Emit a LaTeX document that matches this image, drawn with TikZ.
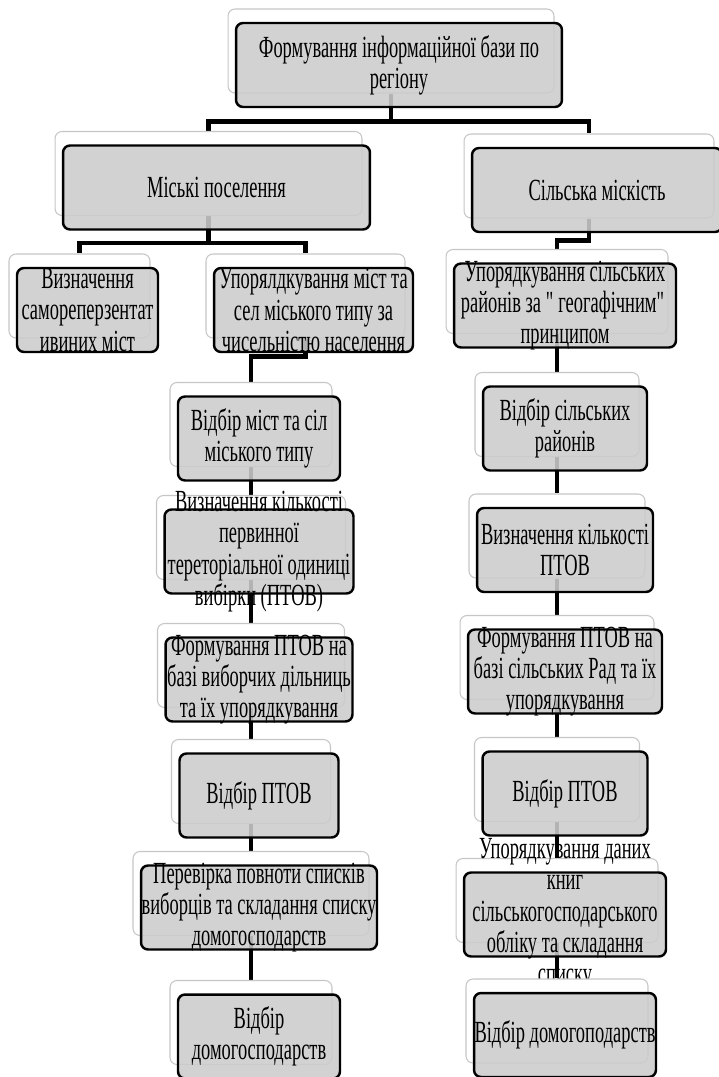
\documentclass[tikz,border=0pt]{standalone}
\usepackage{fontspec}
\setmainfont{Liberation Serif}[FakeStretch=0.6]
\usepackage{tikz}
\usetikzlibrary{shapes,arrows,positioning,calc,backgrounds}
\definecolor{boxgray}{RGB}{204,204,204}
\newcommand{\tierbox}[4]{%
  \node [backbox, minimum width=#3] (#1b) at ($(#2)+(-8,-14)$) {};
  \node [frontbox, minimum width=#3, label={[boxtext]center:{#4}}] (#1) at (#2) {};
}

\begin{document}
\begin{tikzpicture}[x=0.02cm, y=-0.02cm]
        % Styles
        \tikzstyle{backbox} = [rectangle, draw=gray!45, fill=white, rounded corners=0.14cm, minimum height=1.68cm, line width=0.6pt]
        \tikzstyle{frontbox} = [rectangle, draw=black, fill=boxgray, fill opacity=0.88, rounded corners=0.14cm, minimum height=1.68cm, line width=1.4pt]
        \tikzstyle{boxtext} = [align=center, font=\fontsize{17.5}{17.8}\selectfont, inner sep=0pt, fill opacity=1, text opacity=1]
        \tikzstyle{line} = [draw, line width=2.3pt]

        \useasboundingbox (0,0) rectangle (719,1077);

        % Nodes
        \tierbox{root}{399,65}{6.52cm}{Формування інформаційної бази по\\регіону}
        \tierbox{mis}{216.5,187.5}{6.14cm}{Міські поселення}
        \tierbox{sil}{597,190}{5cm}{Сільська міскість}
        \tierbox{viz}{87.5,310}{2.82cm}{Визначення\\самореперзентат\\ивиних міст}
        \tierbox{uporm}{313.5,310}{3.98cm}{Упорялдкування міст та\\сел міського типу за\\чисельністю населення}
        \tierbox{upors}{565,305.5}{4.44cm}{Упорядкування сільських\\районів за \textquotedbl{}геогафічним\textquotedbl\\принципом}
        \tierbox{vidm}{259,438.5}{3.24cm}{Відбір міст та сіл\\міського типу}
        \tierbox{vidr}{565,428.5}{3.28cm}{Відбір сільських\\районів}
        \tierbox{kilm}{259,551.5}{3.78cm}{Визначення кількості\\первинної\\тереторіальної одиниці\\вибірки (ПТОВ)}
        \tierbox{kilr}{565,550}{3.52cm}{Визначення кількості\\ПТОВ}
        \tierbox{formm}{259,679.5}{3.74cm}{Формування ПТОВ на\\базі виборчих дільниць\\та їх упорядкування}
        \tierbox{formr}{565,671.5}{3.88cm}{Формування ПТОВ на\\базі сільських Рад та їх\\упорядкування}
        \tierbox{ptovm}{259,795.5}{3.18cm}{Відбір ПТОВ}
        \tierbox{ptovr}{565,793.5}{3.3cm}{Відбір ПТОВ}
        \tierbox{perm}{259,907.5}{4.72cm}{Перевірка повноти списків\\виборців та складання списку\\домогосподарств}
        \tierbox{uporr}{565,914.5}{4.04cm}{Упорядкування даних\\книг\\сільськогосподарського\\обліку та складання\\списку}
        \tierbox{vidhm}{259,1036.5}{3.24cm}{Відбір\\домогосподарств}
        \tierbox{vidhr}{565,1035}{3.64cm}{Відбір домогоподарств}

        % Edges
        \begin{pgfonlayer}{background}
        \path [line] (rootb.south) -- ++(0,28) -| (misb.north);
        \path [line] (rootb.south) -- ++(0,28) -| (silb.north);
        \path [line] (misb.south) -- ++(0,27) -| (vizb.north);
        \path [line] (misb.south) -- ++(0,27) -| (upormb.north);
        \path [line] (silb.south) -- ++(0,22) -| (uporsb.north);
        \path [line] (upormb.south) -- ++(0,18) -| (vidmb.north);
        \path [line] (vidmb.south) -- (kilmb.north);
        \path [line] (kilmb.south) -- (formmb.north);
        \path [line] (formmb.south) -- (ptovmb.north);
        \path [line] (ptovmb.south) -- (permb.north);
        \path [line] (permb.south) -- (vidhmb.north);
        \path [line] (uporsb.south) -- (vidrb.north);
        \path [line] (vidrb.south) -- (kilrb.north);
        \path [line] (kilrb.south) -- (formrb.north);
        \path [line] (formrb.south) -- (ptovrb.north);
        \path [line] (ptovrb.south) -- (uporrb.north);
        \path [line] (uporrb.south) -- (vidhrb.north);
        \end{pgfonlayer}
\end{tikzpicture}
\end{document}
